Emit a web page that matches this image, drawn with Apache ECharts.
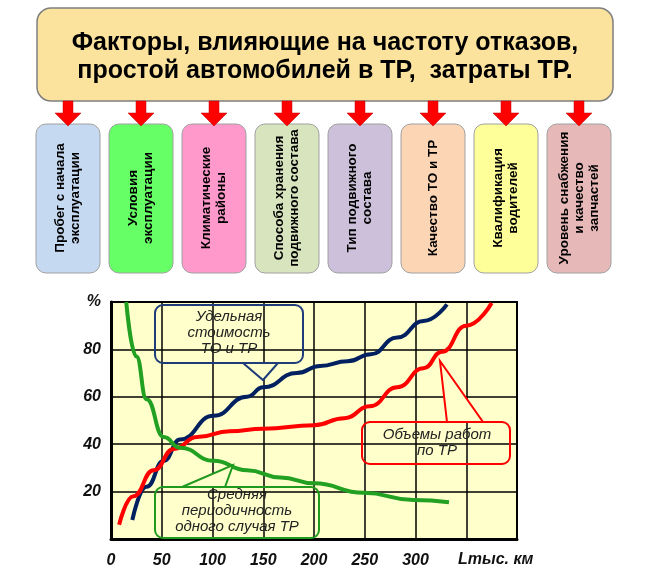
<!DOCTYPE html>
<html><head><meta charset="utf-8">
<script src="https://cdn.jsdelivr.net/npm/echarts@6/dist/echarts.min.js"></script>
<style>html,body{margin:0;padding:0;background:#fff}#c{width:650px;height:574px}</style>
</head><body><div id="c"></div>
<script>
const title = "Факторы, влияющие на частоту отказов,\nпростой автомобилей в ТР,  затраты ТР.";
const factors = ["Пробег с начала\nэксплуатации","Условия\nэксплуатации","Климатические\nрайоны","Способа хранения\nподвижного состава","Тип подвижного\nсостава","Качество ТО и ТР","Квалификация\nводителей","Уровень снабжения\nи качество\nзапчастей"];
const factorColors = ["#c5d9f1","#66ff66","#ff99cc","#d7e4bd","#ccc0da","#fcd5b5","#ffff99","#e6b9b8"];
const xTicks = [0,50,100,150,200,250,300];
const yTicks = [20,40,60,80];
const costX = [21,35,52,68,101,134,150,183,206,233,256,282,308,331];
const costY = [8,22,33,42,52,60,64,70,73,75,78,85,92,99];
const volX = [8,22,42,62,85,117,150,200,230,255,282,308,326,350,375];
const volY = [6,18,29,38,43,45.5,46.5,48,51,56,64,72,79,90,99.6];
const perX = [15,25,35,52,68,101,134,167,200,249,298,333];
const perY = [100,77,59,43,38.5,33,29,26,23.5,19.5,16.5,15.5];
const pairs=(xs,ys)=>xs.map((x,i)=>[x,ys[i]]);

const chart = echarts.init(document.getElementById('c'));
const F = "Liberation Sans, Arial, sans-serif";
const g = [];
g.push({type:'rect',shape:{x:37,y:8,width:576,height:93,r:14},style:{fill:'#fbe39e',stroke:'#7f7f7f',lineWidth:1.5},z:1});
g.push({type:'text',x:325,y:57,style:{text:title,fill:'#000',font:'bold 25px '+F,textAlign:'center',textVerticalAlign:'middle',lineHeight:28},z:2});
const bx=[36,109,182,255,328,401,474,547];
bx.forEach((x,i)=>{
  const cx=x+32;
  g.push({type:'polygon',shape:{points:[[cx-5,101],[cx+5,101],[cx+5,113],[cx+13,113],[cx,126],[cx-13,113],[cx-5,113]]},style:{fill:'#ff0000',stroke:'#c00000',lineWidth:0.5},z:3});
  g.push({type:'rect',shape:{x:x,y:124,width:64,height:149,r:10},style:{fill:factorColors[i],stroke:'#a0a0a0',lineWidth:1},z:1});
  g.push({type:'text',x:cx,y:198,rotation:Math.PI/2,style:{text:factors[i],fill:'#000',font:'bold 13.5px '+F,textAlign:'center',textVerticalAlign:'middle',lineHeight:15},z:2});
});
function callout(pts,color,box,text,cx,cy){
  g.push({type:'rect',shape:{x:box[0],y:box[1],width:box[2],height:box[3],r:8},style:{fill:'none',stroke:color,lineWidth:2},z:10});
  g.push({type:'polygon',shape:{points:pts},style:{fill:'#ffffcc',stroke:color,lineWidth:2},z:11});
  g.push({type:'text',x:cx,y:cy,style:{text:text,fill:'#222',font:'italic 15px '+F,textAlign:'center',textVerticalAlign:'middle',lineHeight:16},z:12});
}
callout([[243,363],[263,380],[278,363]],'#1f3c7a',[155,305,148,58],"Удельная\nстоимость\nТО и ТР",229,333);
callout([[447,422],[440,361],[483,422]],'#ff0000',[362,422,148,42],"Объемы работ\nпо ТР",437,443);
callout([[182,487],[233,465],[225,487]],'#1f9a1f',[155,487,164,51],"Средняя\nпериодичность\nодного случая ТР",237,511);
g.push({type:'text',x:458,y:560,style:{text:"Lтыс. км",fill:'#111',font:'italic bold 16px '+F,textVerticalAlign:'middle'},z:5});

chart.setOption({
  animation:false,
  grid:{left:111,top:302,width:406,height:237,show:true,backgroundColor:'#ffffcc',borderColor:'#000',borderWidth:2},
  xAxis:{type:'value',min:0,max:400,interval:50,
    axisLine:{show:true,lineStyle:{color:'#000',width:3}},axisTick:{show:false},
    splitLine:{show:true,lineStyle:{color:'#000',width:1.5}},
    axisLabel:{margin:14,color:'#111',fontSize:16,fontStyle:'italic',fontWeight:'bold',fontFamily:F,
      formatter:v=>xTicks.includes(v)?String(v):''}},
  yAxis:{type:'value',min:0,max:100,interval:20,
    axisLine:{show:true,lineStyle:{color:'#000',width:3}},axisTick:{show:false},
    splitLine:{show:true,lineStyle:{color:'#000',width:1.5}},
    axisLabel:{margin:10,color:'#111',fontSize:16,fontStyle:'italic',fontWeight:'bold',fontFamily:F,
      formatter:v=>v===100?'%':(yTicks.includes(v)?String(v):'')}},
  series:[
    {type:'line',data:pairs(costX,costY),smooth:0.5,smoothMonotone:'x',showSymbol:false,lineStyle:{color:'#002060',width:4},z:3},
    {type:'line',data:pairs(volX,volY),smooth:0.5,smoothMonotone:'x',showSymbol:false,lineStyle:{color:'#ff0000',width:4},z:3},
    {type:'line',data:pairs(perX,perY),smooth:0.5,smoothMonotone:'x',showSymbol:false,lineStyle:{color:'#22a022',width:4},z:3}
  ],
  graphic:g
});
</script></body></html>
